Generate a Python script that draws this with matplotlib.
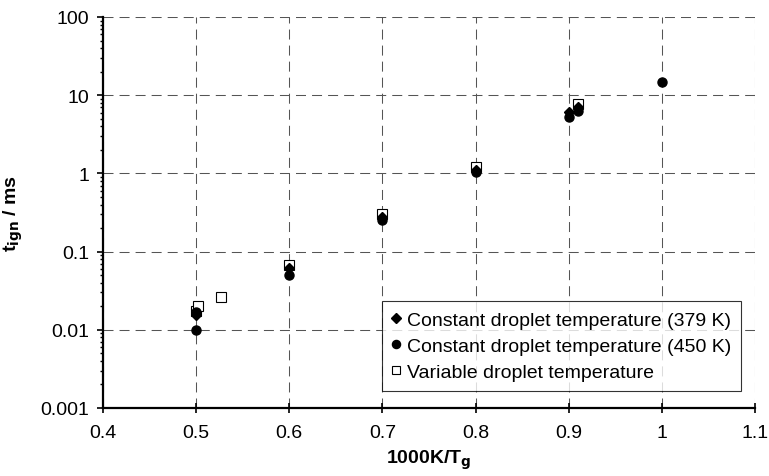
import numpy as np
import matplotlib
matplotlib.use("Agg")
from matplotlib import pyplot as plt
from matplotlib.ticker import LogLocator, FixedLocator, NullFormatter

plt.rcParams['font.family'] = ['Liberation Sans', 'DejaVu Sans']

# data
x_379 = [0.5, 0.6, 0.7, 0.8, 0.9, 0.91]
t_379 = [0.0155, 0.061, 0.276, 1.1, 6.1, 7.0]

x_450 = [0.5, 0.5, 0.6, 0.7, 0.8, 0.9, 0.91, 1.0]
t_450 = [0.01, 0.017, 0.05, 0.25, 1.03, 5.3, 6.3, 14.8]

x_var = [0.5, 0.502, 0.527, 0.6, 0.7, 0.8, 0.91]
t_var = [0.0174, 0.0204, 0.026, 0.068, 0.305, 1.19, 7.8]

x_ticks = [0.4, 0.5, 0.6, 0.7, 0.8, 0.9, 1.0, 1.1]
x_labels = ["0.4", "0.5", "0.6", "0.7", "0.8", "0.9", "1", "1.1"]
y_ticks = [0.001, 0.01, 0.1, 1, 10, 100]
y_labels = ["0.001", "0.01", "0.1", "1", "10", "100"]

fig = plt.figure(figsize=(7.69, 4.77), dpi=100)
ax = fig.add_axes([103/769, 1-409/477, 652/769, 391/477])

ax.plot(x_var, t_var, ls="none", marker="s", ms=6.5, mfc="white", mec="black", mew=0.8,
        label="Variable droplet temperature", zorder=3)
ax.plot(x_379, t_379, ls="none", marker="D", ms=5.5, color="black",
        label="Constant droplet temperature (379 K)", zorder=4)
ax.plot(x_450, t_450, ls="none", marker="o", ms=6.5, color="black",
        label="Constant droplet temperature (450 K)", zorder=5)

ax.set_yscale("log")
ax.set_xlim(0.4, 1.1)
ax.set_ylim(0.001, 100)
ax.xaxis.set_major_locator(FixedLocator(x_ticks))
ax.set_xticklabels(x_labels)
ax.yaxis.set_major_locator(FixedLocator(y_ticks))
ax.set_yticklabels(y_labels)
ax.yaxis.set_minor_locator(LogLocator(base=10, subs=np.arange(2, 10)))
ax.yaxis.set_minor_formatter(NullFormatter())

ax.grid(True, which="major", ls=(0, (9.6, 5.8)), color="#555555", lw=0.75)
for s in ("top", "right"):
    ax.spines[s].set_visible(False)
ax.spines["left"].set_linewidth(1.6)
ax.spines["bottom"].set_linewidth(1.6)
ax.tick_params(axis="x", which="major", direction="inout", length=7, width=1.2, labelsize=14, pad=8)
ax.tick_params(axis="y", which="major", direction="out", length=4, width=1.2, labelsize=14, pad=6)
ax.tick_params(axis="y", which="minor", direction="out", length=2.5, width=1.0)

ax.set_xlabel("1000K/T$_\\mathbf{g}$", fontsize=14, fontweight="bold")
ax.set_ylabel("t$_\\mathbf{ign}$ / ms", fontsize=14, fontweight="bold")
ax.xaxis.set_label_coords(0.5, -0.102)
ax.yaxis.set_label_coords(-0.1196, 0.5)

h, l = ax.get_legend_handles_labels()
order = [1, 2, 0]
leg = ax.legend([h[i] for i in order], [l[i] for i in order], loc="lower right",
                bbox_to_anchor=(0.9785, 0.0435), borderaxespad=0, fontsize=14,
                frameon=True, fancybox=False, edgecolor="black", handlelength=0.5,
                handletextpad=0.3, borderpad=0.5, labelspacing=0.45, markerscale=0.9)
leg.get_frame().set_linewidth(0.8)

fig.savefig("out.png", dpi=100)
